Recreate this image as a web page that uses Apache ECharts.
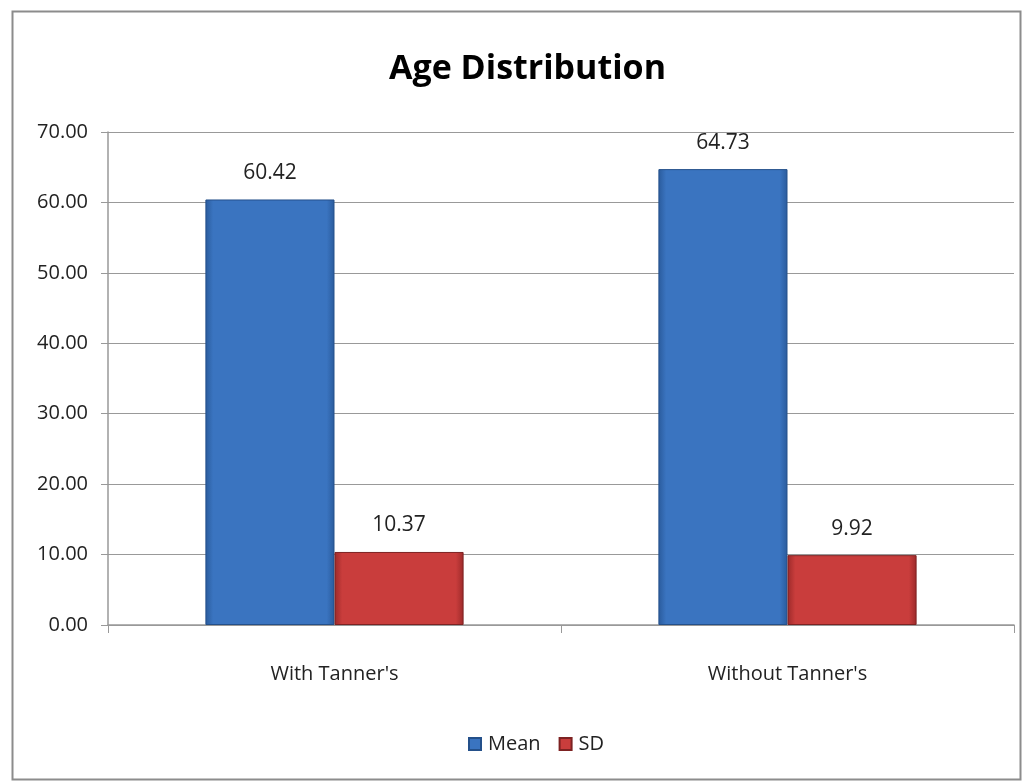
<!DOCTYPE html>
<html><head><meta charset="utf-8">
<script src="https://cdn.jsdelivr.net/npm/echarts@6/dist/echarts.min.js"></script>
<style>html,body{margin:0;padding:0;background:#fff}#c{width:1024px;height:781px}</style>
</head><body><div id="c"></div>
<script>
const categories = ["With Tanner's", "Without Tanner's"];
const meanValues = [60.42, 64.73];
const sdValues = [10.37, 9.92];
const yTicks = { min: 0, max: 70, interval: 10 };
const FONT = "'Open Sans',sans-serif";

const chart = echarts.init(document.getElementById('c'), null, {renderer: 'canvas'});
function grad(a, b) {
  return new echarts.graphic.LinearGradient(0, 0, 1, 0, [
    {offset: 0, color: a}, {offset: 0.06, color: b}, {offset: 0.94, color: b}, {offset: 1, color: a}
  ]);
}
chart.setOption({
  animation: false,
  backgroundColor: '#fff',
  graphic: [{
    type: 'rect', left: 10, top: 9, shape: {width: 1008, height: 768},
    style: {fill: 'none', stroke: '#8c8c8c', lineWidth: 2}, z: 100
  }],
  title: {
    text: 'Age Distribution', left: 384, top: 47,
    textStyle: {fontFamily: FONT, fontSize: 34, fontWeight: 'bold', color: '#000'}
  },
  legend: {
    bottom: 22, left: 463, itemWidth: 12, itemHeight: 12, itemGap: 18,
    textStyle: {fontFamily: FONT, fontSize: 20, color: '#222', padding: [0, 0, 0, 2]},
    data: [{name: 'Mean', icon: 'rect'}, {name: 'SD', icon: 'rect'}]
  },
  grid: {left: 108, right: 10, top: 132, bottom: 156, containLabel: false},
  xAxis: {
    type: 'category', data: categories,
    axisLine: {lineStyle: {color: '#999', width: 1.5}},
    axisTick: {show: true, length: 8, alignWithLabel: false, lineStyle: {color: '#999'}},
    axisLabel: {fontFamily: FONT, fontSize: 20, color: '#222', margin: 39}
  },
  yAxis: {
    type: 'value', min: yTicks.min, max: yTicks.max, interval: yTicks.interval,
    axisLine: {show: true, lineStyle: {color: '#999', width: 1.5}},
    axisTick: {show: true, length: 7, lineStyle: {color: '#999'}},
    splitLine: {lineStyle: {color: '#999', width: 1.2}},
    axisLabel: {fontFamily: FONT, fontSize: 20, color: '#222', margin: 20,
      formatter: v => v.toFixed(2)}
  },
  series: [
    {
      name: 'Mean', type: 'bar', data: meanValues, barGap: '0%', barCategoryGap: '43%',
      itemStyle: {color: grad('#2a5b9c', '#3a74c0'), borderColor: '#24508a', borderWidth: 1},
      label: {show: true, position: 'top', distance: 16, fontFamily: FONT, fontSize: 21, color: '#222',
        formatter: p => p.value.toFixed(2)}
    },
    {
      name: 'SD', type: 'bar', data: sdValues,
      itemStyle: {color: grad('#9c2a2a', '#c93d3c'), borderColor: '#7d2222', borderWidth: 1},
      label: {show: true, position: 'top', distance: 16, fontFamily: FONT, fontSize: 21, color: '#222',
        formatter: p => p.value.toFixed(2)}
    }
  ],
  color: ['#3a74c0', '#c93d3c']
});
</script></body></html>
